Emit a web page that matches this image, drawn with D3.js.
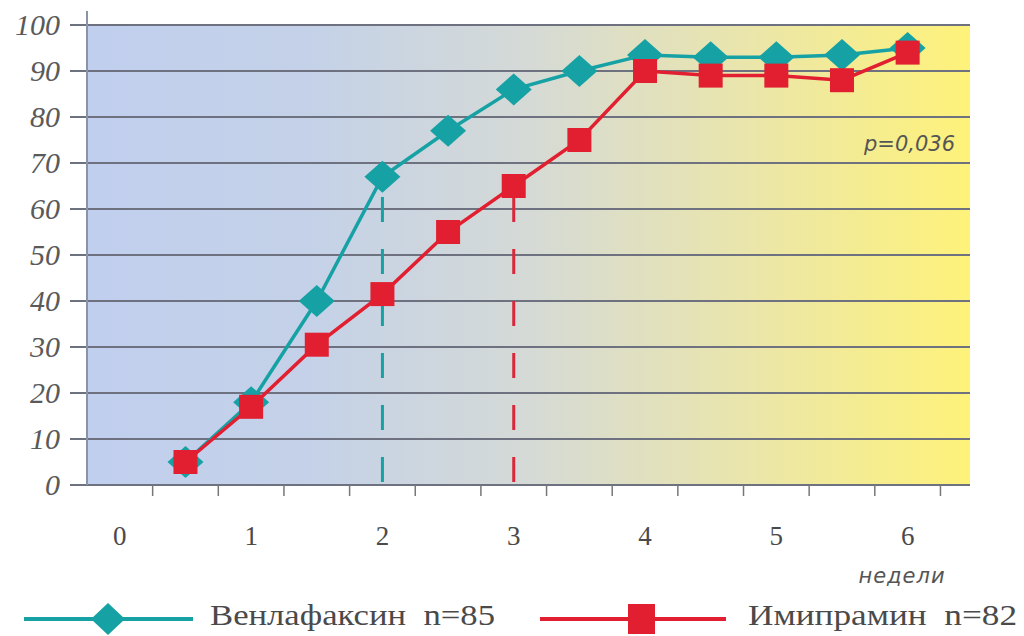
<!DOCTYPE html>
<html><head><meta charset="utf-8">
<script src="https://cdn.jsdelivr.net/npm/d3@7"></script>
<style>body{margin:0;background:#fff;} svg{display:block;}</style>
</head><body>
<svg id="c" width="1024" height="636"></svg>
<script>
const weeks = [0.5, 1, 1.5, 2, 2.5, 3, 3.5, 4, 4.5, 5, 5.5, 6];
const venlafaxine = [5, 18, 40, 67, 77, 86, 90, 93.5, 93, 93, 93.5, 95];
const imipramine = [5, 17, 30.5, 41.5, 55, 65, 75, 90, 89, 89, 88, 94];
const xTickLabels = [0, 1, 2, 3, 4, 5, 6];
const yTickValues = [0, 10, 20, 30, 40, 50, 60, 70, 80, 90, 100];
const minorTicks = [0.25, 0.75, 1.25, 1.75, 2.25, 2.75, 3.25, 3.75, 4.25, 4.75, 5.25, 5.75, 6.25];
const dropLines = [{week: 2, value: 67, series: "v"}, {week: 3, value: 65, series: "i"}];
const legendLabels = ["Венлафаксин  n=85", "Имипрамин  n=82"];
const pLabel = "p=0,036";
const xUnit = "недели";

const TEAL = "#16a2a4", RED = "#e21f30", GRID = "#6e7280";
const svg = d3.select("#c");
const L = 87, R = 970, T = 25, B = 485;
const x = d3.scaleLinear().domain([-0.25, 6.475]).range([L, R]);
const y = d3.scaleLinear().domain([0, 100]).range([B, T]);

const defs = svg.append("defs");
const g = defs.append("linearGradient").attr("id", "bg").attr("x1", 0).attr("x2", 1).attr("y1", 0).attr("y2", 0);
[[0, "#c0cfee"], [0.25, "#c4d1e8"], [0.5, "#d5dad6"], [0.72, "#e8e4b0"], [1, "#fef27a"]].forEach(s =>
  g.append("stop").attr("offset", s[0]).attr("stop-color", s[1]));

svg.append("rect").attr("x", L).attr("y", T).attr("width", R - L).attr("height", B - T).attr("fill", "url(#bg)");

// grid lines
svg.append("g").selectAll("line").data(yTickValues).join("line")
  .attr("x1", 70).attr("x2", R).attr("y1", d => y(d)).attr("y2", d => y(d))
  .attr("stroke", GRID).attr("stroke-width", 2);

// left axis
svg.append("line").attr("x1", L).attr("x2", L).attr("y1", 11).attr("y2", B).attr("stroke", "#8a93a8").attr("stroke-width", 2);

// bottom ticks
svg.append("g").selectAll("line").data(minorTicks).join("line")
  .attr("x1", d => x(d)).attr("x2", d => x(d)).attr("y1", B).attr("y2", B + 11)
  .attr("stroke", "#777").attr("stroke-width", 1.5);

// y labels
svg.append("g").selectAll("text").data(yTickValues).join("text")
  .attr("x", 60).attr("y", d => y(d) + 10).attr("text-anchor", "end")
  .attr("font-family", "'Liberation Serif', 'DejaVu Serif', serif").attr("font-style", "italic").attr("font-size", 30)
  .attr("fill", "#5a5a5a").text(d => d);

// x labels
svg.append("g").selectAll("text").data(xTickLabels).join("text")
  .attr("x", d => x(d)).attr("y", 545).attr("text-anchor", "middle")
  .attr("font-family", "'Liberation Serif', serif").attr("font-size", 27)
  .attr("fill", "#4a4a4a").text(d => d);

svg.append("text").attr("x", 902).attr("y", 583).attr("text-anchor", "middle")
  .attr("font-family", "'DejaVu Sans', sans-serif").attr("font-style", "italic").attr("font-size", 21)
  .attr("letter-spacing", 1).attr("fill", "#555").text(xUnit);

svg.append("text").attr("x", 955).attr("y", 151).attr("text-anchor", "end")
  .attr("font-family", "'DejaVu Sans', sans-serif").attr("font-style", "italic").attr("font-size", 21)
  .attr("fill", "#555").text(pLabel);

// drop lines
svg.append("g").selectAll("line").data(dropLines).join("line")
  .attr("x1", d => x(d.week)).attr("x2", d => x(d.week)).attr("y1", B - 3).attr("y2", d => y(d.value))
  .attr("stroke", d => d.series === "v" ? TEAL : "#d8283a").attr("stroke-width", 3)
  .attr("stroke-dasharray", "25,27");

const line = d3.line().x(d => x(d[0])).y(d => y(d[1]));
const vData = weeks.map((w, i) => [w, venlafaxine[i]]);
const iData = weeks.map((w, i) => [w, imipramine[i]]);

svg.append("path").datum(vData).attr("d", line).attr("fill", "none").attr("stroke", TEAL).attr("stroke-width", 3.5);
svg.append("path").datum(iData).attr("d", line).attr("fill", "none").attr("stroke", RED).attr("stroke-width", 3.5);

function diamond(sel, cx, cy, hw, hh) {
  sel.append("path").attr("d", `M${cx},${cy - hh}L${cx + hw},${cy}L${cx},${cy + hh}L${cx - hw},${cy}Z`).attr("fill", TEAL);
}
vData.forEach(d => diamond(svg, x(d[0]), y(d[1]), 18, 16));
svg.append("g").selectAll("rect").data(iData).join("rect")
  .attr("x", d => x(d[0]) - 12).attr("y", d => y(d[1]) - 12).attr("width", 24).attr("height", 24).attr("fill", RED);

// legend
const ly = 619;
svg.append("line").attr("x1", 24).attr("x2", 193).attr("y1", ly).attr("y2", ly).attr("stroke", TEAL).attr("stroke-width", 4);
diamond(svg, 108, ly, 17, 16);
svg.append("text").attr("x", 210).attr("y", 625).attr("font-family", "'Liberation Serif', serif").attr("font-size", 30)
  .attr("fill", "#4a4a4a").style("white-space", "pre")
  .attr("textLength", 285).attr("lengthAdjust", "spacingAndGlyphs").text(legendLabels[0]);
svg.append("line").attr("x1", 540).attr("x2", 726).attr("y1", ly).attr("y2", ly).attr("stroke", RED).attr("stroke-width", 4);
svg.append("rect").attr("x", 628).attr("y", ly - 15).attr("width", 27).attr("height", 30).attr("fill", RED);
svg.append("text").attr("x", 748).attr("y", 625).attr("font-family", "'Liberation Serif', serif").attr("font-size", 30)
  .attr("fill", "#4a4a4a").style("white-space", "pre")
  .attr("textLength", 269).attr("lengthAdjust", "spacingAndGlyphs").text(legendLabels[1]);
</script>
</body></html>
